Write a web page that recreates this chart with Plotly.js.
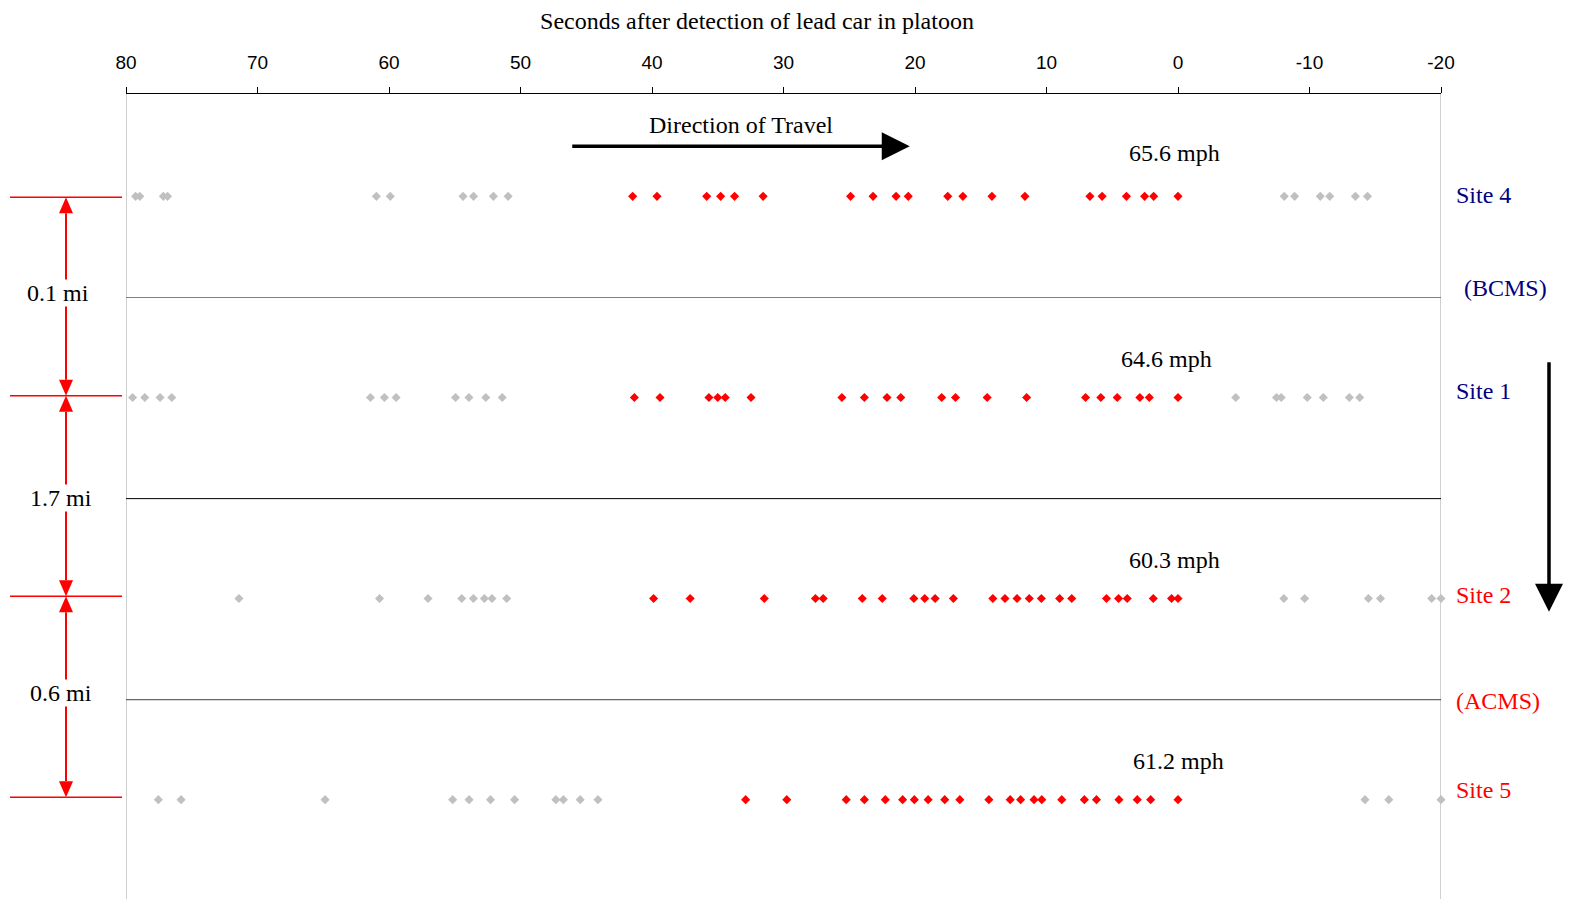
<!DOCTYPE html>
<html>
<head>
<meta charset="utf-8">
<script src="https://cdn.plot.ly/plotly-3.0.1.min.js"></script>
<style>html,body{margin:0;padding:0;background:#fff;}#chart{width:1571px;height:899px;}</style>
</head>
<body>
<div id="chart"></div>
<script>
// Site names (top to bottom) and their row positions
const sites = ['Site 4', 'Site 1', 'Site 2', 'Site 5'];
const siteRows = [3.5, 2.5, 1.5, 0.5];
const speeds = ['65.6 mph', '64.6 mph', '60.3 mph', '61.2 mph'];
const distances = ['0.1 mi', '1.7 mi', '0.6 mi'];
const systems = ['(BCMS)', '(ACMS)'];

// Platoon vehicles (red) and other vehicles (grey), seconds after lead car detection
const site4Platoon = [41.47, 39.62, 35.84, 34.78, 33.72, 31.55, 24.90, 23.19, 21.44, 20.51, 17.51, 16.36, 14.15, 11.64, 6.70, 5.77, 3.92, 2.54, 1.85, 0];
const site4Other = [79.27, 78.95, 77.16, 76.84, 60.96, 59.90, 54.37, 53.57, 52.06, 50.94, -8.08, -8.87, -10.82, -11.54, -13.49, -14.41];
const site1Platoon = [41.34, 39.39, 35.67, 35.00, 34.43, 32.47, 25.56, 23.85, 22.13, 21.08, 17.97, 16.92, 14.51, 11.51, 7.03, 5.87, 4.62, 2.90, 2.18, 0];
const site1Other = [79.50, 78.57, 77.41, 76.52, 61.41, 60.35, 59.46, 54.94, 53.92, 52.64, 51.39, -4.39, -7.49, -7.85, -9.83, -11.05, -13.03, -13.82];
const site2Platoon = [39.88, 37.10, 31.46, 27.57, 26.98, 24.01, 22.49, 20.09, 19.26, 18.47, 17.08, 14.08, 13.16, 12.24, 11.31, 10.39, 9.00, 8.08, 5.44, 4.52, 3.86, 1.88, 0.49, 0];
const site2Other = [71.41, 60.72, 57.03, 54.47, 53.58, 52.75, 52.17, 51.05, -8.05, -9.63, -14.48, -15.40, -19.29, -20];
const site5Platoon = [32.88, 29.75, 25.23, 23.85, 22.26, 20.94, 20.05, 19.00, 17.74, 16.59, 14.38, 12.76, 11.97, 10.95, 10.36, 8.84, 7.12, 6.20, 4.49, 3.10, 2.08, 0];
const site5Other = [77.54, 75.81, 64.86, 55.16, 53.91, 52.28, 50.45, 47.31, 46.74, 45.46, 44.11, -14.22, -16.03, -20];

const tickVals = [80, 70, 60, 50, 40, 30, 20, 10, 0, -10, -20];
const tickText = ['80', '70', '60', '50', '40', '30', '20', '10', '0', '-10', '-20'];

const platoons = [site4Platoon, site1Platoon, site2Platoon, site5Platoon];
const others = [site4Other, site1Other, site2Other, site5Other];

const RED = '#ff0000', GREY = '#c0c0c0', NAVY = '#000080';
const SERIF = 'Liberation Serif, Times New Roman, serif';
const FS = 24;
const Y0 = 0.006, Y1 = 4.009;

const traces = [];
sites.forEach((s, i) => {
  traces.push({
    x: others[i], y: others[i].map(() => siteRows[i]),
    type: 'scatter', mode: 'markers', cliponaxis: false, showlegend: false,
    marker: {symbol: 'diamond', size: 7, color: GREY}, hoverinfo: 'x'
  });
  traces.push({
    x: platoons[i], y: platoons[i].map(() => siteRows[i]),
    type: 'scatter', mode: 'markers', cliponaxis: false, showlegend: false,
    marker: {symbol: 'diamond', size: 7, color: RED}, hoverinfo: 'x'
  });
});

const shapes = [];
// plot side borders
[80, -20].forEach(v => shapes.push({type: 'line', xref: 'x', yref: 'y', x0: v, x1: v, y0: Y0 - 0.01, y1: Y1, line: {color: GREY, width: 1.5}, layer: 'below'}));
// row dividers
const divColors = ['#808080', '#000000', '#404040'];
[3, 2, 1].forEach((v, i) => shapes.push({type: 'line', xref: 'x', yref: 'y', x0: 80, x1: -20, y0: v - 0.003, y1: v - 0.003, line: {color: divColors[i], width: 1}, layer: 'below'}));

// left distance markers (paper x)
const px = p => (p - 126) / 1315;
const markY = [3.495, 2.508, 1.512, 0.5125];
markY.forEach(v => shapes.push({type: 'line', xref: 'paper', yref: 'y', x0: px(10), x1: px(122), y0: v, y1: v, line: {color: RED, width: 1.5}}));
const ax = px(66), hw = 7 / 1315, th = 16 / 201;
for (let i = 0; i < 3; i++) {
  const top = markY[i], bot = markY[i + 1];
  shapes.push({type: 'line', xref: 'paper', yref: 'y', x0: ax, x1: ax, y0: top - th, y1: bot + th, line: {color: RED, width: 2}});
  shapes.push({type: 'path', xref: 'paper', yref: 'y', path: `M ${ax},${top} L ${ax - hw},${top - th} L ${ax + hw},${top - th} Z`, fillcolor: RED, line: {color: RED, width: 0}});
  shapes.push({type: 'path', xref: 'paper', yref: 'y', path: `M ${ax},${bot} L ${ax - hw},${bot + th} L ${ax + hw},${bot + th} Z`, fillcolor: RED, line: {color: RED, width: 0}});
}

const annotations = [];
// speeds
const speedX = [0.23, 0.91, 0.23, 0];
const speedDY = [0.214, 0.19, 0.19, 0.19];
sites.forEach((s, i) => annotations.push({x: speedX[i], y: siteRows[i] + speedDY[i], xref: 'x', yref: 'y', xanchor: 'center', yanchor: 'middle', text: speeds[i], showarrow: false, font: {family: SERIF, size: FS, color: '#000'}}));
// site labels
const siteColors = [NAVY, NAVY, RED, RED];
const siteLabY = [3.505, 2.53, 1.52, 0.55];
sites.forEach((s, i) => annotations.push({x: px(1483), y: siteLabY[i], xref: 'paper', yref: 'y', xanchor: 'center', yanchor: 'middle', text: s, showarrow: false, font: {family: SERIF, size: FS, color: siteColors[i]}}));
annotations.push({x: px(1505), y: 3.046, xref: 'paper', yref: 'y', xanchor: 'center', yanchor: 'middle', text: systems[0], showarrow: false, font: {family: SERIF, size: FS, color: NAVY}});
annotations.push({x: px(1498), y: 0.993, xref: 'paper', yref: 'y', xanchor: 'center', yanchor: 'middle', text: systems[1], showarrow: false, font: {family: SERIF, size: FS, color: RED}});
// distance labels
const distY = [3.021, 2.002, 1.032];
const distX = [58, 61, 61];
distances.forEach((d, i) => annotations.push({x: px(distX[i]), y: distY[i], xref: 'paper', yref: 'y', xanchor: 'center', yanchor: 'middle', text: d, showarrow: false, bgcolor: '#ffffff', borderpad: 0, font: {family: SERIF, size: FS, color: '#000'}}));
// direction of travel
annotations.push({x: 33.2, y: 3.854, xref: 'x', yref: 'y', xanchor: 'center', yanchor: 'middle', text: 'Direction of Travel', showarrow: false, font: {family: SERIF, size: FS, color: '#000'}});
annotations.push({x: 20.4, y: 3.749, xref: 'x', yref: 'y', axref: 'pixel', ayref: 'pixel', ax: -339, ay: 0, text: '', showarrow: true, arrowhead: 2, arrowsize: 1.6, arrowwidth: 3.5, arrowcolor: '#000'});
// vertical arrow on the right
annotations.push({x: px(1549), y: 1.435, xref: 'paper', yref: 'y', axref: 'pixel', ayref: 'pixel', ax: 0, ay: -251, text: '', showarrow: true, arrowhead: 2, arrowsize: 1.6, arrowwidth: 3.5, arrowcolor: '#000'});

const layout = {
  width: 1571, height: 899,
  paper_bgcolor: '#ffffff', plot_bgcolor: '#ffffff',
  margin: {l: 126, r: 130, t: 94, b: 0},
  title: {text: 'Seconds after detection of lead car in platoon', xref: 'container', yref: 'container', x: 757 / 1571, y: 1 - 21 / 899, xanchor: 'center', yanchor: 'middle', font: {family: SERIF, size: FS, color: '#000'}},
  xaxis: {
    side: 'top', range: [80, -20], autorange: false,
    tickmode: 'array', tickvals: tickVals, ticktext: tickText,
    ticks: 'outside', ticklen: 6, tickwidth: 1, tickcolor: '#000',
    ticklabelstandoff: 10,
    showline: true, linecolor: '#000', linewidth: 1,
    showgrid: false, zeroline: false,
    tickfont: {family: 'Liberation Sans, Arial, sans-serif', size: 19, color: '#000'}
  },
  yaxis: {range: [Y0, Y1], autorange: false, visible: false, showgrid: false, zeroline: false},
  shapes: shapes,
  annotations: annotations,
  showlegend: false
};

Plotly.newPlot('chart', traces, layout, {displayModeBar: false, staticPlot: true});
</script>
</body>
</html>
